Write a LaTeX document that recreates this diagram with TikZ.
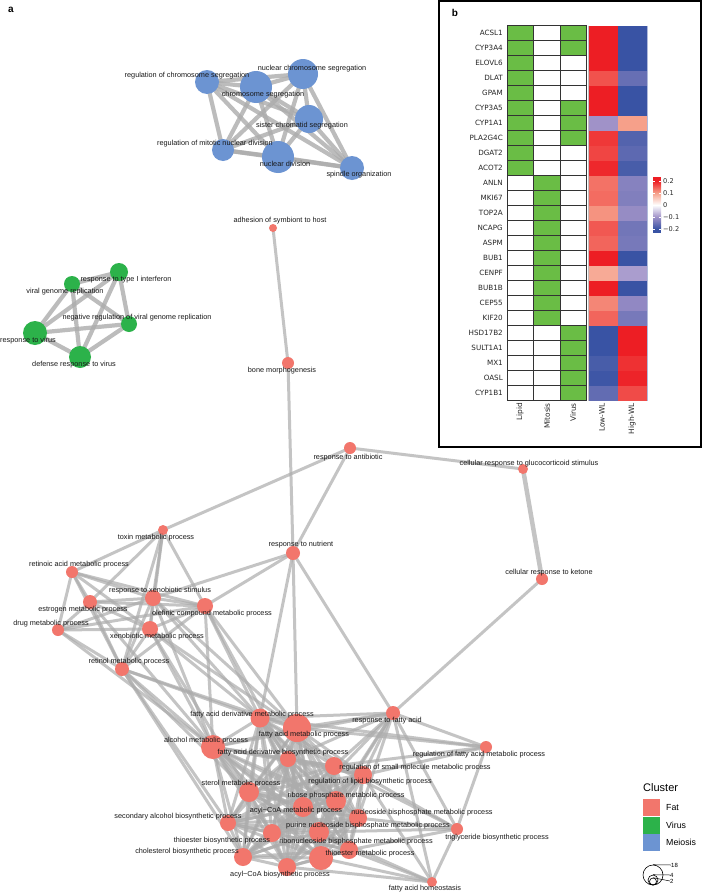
\documentclass[tikz,border=0pt]{standalone}
\usepackage{fontspec}
\setmainfont{Liberation Sans}
\newfontfamily\dejavu{DejaVu Sans}
\definecolor{fatc}{RGB}{242,118,108}
\definecolor{virc}{RGB}{44,178,74}
\definecolor{meic}{RGB}{108,148,210}
\definecolor{edgec}{RGB}{172,172,172}
\definecolor{hgreen}{RGB}{106,189,69}
\definecolor{hred}{RGB}{237,30,36}
\definecolor{hmid}{RGB}{246,160,138}
\definecolor{hblue}{RGB}{57,83,164}
\definecolor{hlav}{RGB}{160,146,200}
\tikzset{
 edge/.style={draw=edgec, line width=3pt, opacity=0.7},
 bedge/.style={draw=edgec, line width=4.2pt, opacity=0.8},
 dot/.style={circle, inner sep=0pt, minimum size=#1, draw=none},
 lab/.style={font=\fontsize{7.3}{8}\selectfont, inner sep=0pt, text=black!90},
 rowlab/.style={font=\dejavu\fontsize{7.2}{8}\selectfont, anchor=east, inner sep=0pt, text=black!85},
 collab/.style={font=\dejavu\fontsize{7.4}{8}\selectfont, anchor=east, rotate=90, inner sep=0pt, text=black!85},
 cellb/.style={draw=black!80, line width=0.6pt},
 cbl/.style={font=\dejavu\fontsize{6.6}{7}\selectfont, anchor=west, inner sep=0pt, text=black!85},
 legt/.style={font=\fontsize{8.8}{10}\selectfont, anchor=west, inner sep=0pt},
 sizel/.style={font=\fontsize{6}{7}\selectfont, anchor=west, inner sep=0pt},
 panel/.style={font=\bfseries\fontsize{10}{12}\selectfont, inner sep=0pt},
}
\begin{document}
\begin{tikzpicture}[x=1pt,y=-1pt]
\useasboundingbox (0,0) rectangle (703,894);
\fill[white] (0,0) rectangle (703,894);
% node centres
\foreach \n/\x/\y in {
b1/207/82, b2/256/87, b3/303/74, b4/309/119, b5/223/150, b6/278/157, b7/352/168,
g1/119/272, g2/72/284, g3/129/324, g4/35/333, g5/80/357,
r1/273/228, r2/288/363, r3/350/448, r4/523/469, r5/163/530, r6/293/553, r7/72/572,
r8/153/598, r9/90/602, r10/205/606, r11/58/630, r12/150/629, r13/122/669, r14/542/579,
r15/393/713, r16/260/718, r17/297/728, r18/213/747, r19/288/759, r20/486/747, r21/334/766,
r22/363/775, r23/249/792, r24/336/801, r25/303/807, r26/358/818, r27/228/823, r28/319/832,
r29/457/829, r30/272/833, r31/349/850, r32/321/858, r33/243/857, r34/287/867, r35/432/882}
 \coordinate (\n) at (\x,\y);
% ---- edges
\foreach \a [count=\ia] in {b1,b2,b3,b4,b5,b6,b7}{
 \foreach \b [count=\ib] in {b1,b2,b3,b4,b5,b6,b7}{
  \ifnum\ia<\ib \draw[bedge] (\a) -- (\b); \fi}}
\foreach \a [count=\ia] in {g1,g2,g3,g4,g5}{
 \foreach \b [count=\ib] in {g1,g2,g3,g4,g5}{
  \ifnum\ia<\ib \draw[bedge] (\a) -- (\b); \fi}}
\foreach \a [count=\ia] in {r7,r8,r9,r10,r11,r12,r13}{
 \foreach \b [count=\ib] in {r7,r8,r9,r10,r11,r12,r13}{
  \ifnum\ia<\ib \draw[edge] (\a) -- (\b); \fi}}
\foreach \a [count=\ia] in {r16,r17,r18,r19,r21,r22,r23,r24,r25,r26,r27,r28,r30,r31,r32,r33,r34}{
 \foreach \b [count=\ib] in {r16,r17,r18,r19,r21,r22,r23,r24,r25,r26,r27,r28,r30,r31,r32,r33,r34}{
  \ifnum\ia<\ib \draw[edge] (\a) -- (\b); \fi}}
\foreach \a/\b in {r1/r2, r2/r6, r3/r4, r3/r5, r3/r6, r14/r15, r6/r15, r6/r10, r6/r8,
 r6/r16, r6/r17, r5/r7, r5/r8, r5/r9, r5/r10, r5/r12, r5/r13,
 r13/r18, r13/r16, r13/r17, r13/r23, r13/r27, r13/r33, r12/r16, r12/r17, r12/r18,
 r10/r16, r10/r17, r10/r19, r8/r16, r8/r17, r8/r18, r9/r18, r11/r18, r10/r18, r12/r23,
 r15/r16, r15/r17, r15/r19, r15/r21, r15/r22, r15/r24, r15/r26, r15/r28, r15/r20,
 r15/r29, r15/r35, r15/r18, r15/r25,
 r20/r17, r20/r21, r20/r22, r20/r29, r20/r16,
 r29/r21, r29/r22, r29/r26, r29/r28, r29/r31, r29/r35,
 r35/r32, r35/r34, r35/r31, r35/r22, r35/r28}
 \draw[edge] (\a) -- (\b);
\draw[edge, line width=4.5pt] (r4) -- (r14);
% ---- circles
\foreach \n/\d in {b1/24, b2/32, b3/30, b4/28, b5/22, b6/32, b7/24}
 \node[dot=\d pt, fill=meic] (\n-c) at (\n) {};
\foreach \n/\d in {g1/18, g2/16, g3/16, g4/24, g5/22}
 \node[dot=\d pt, fill=virc] (\n-c) at (\n) {};
\foreach \n/\d in {r1/8, r2/12, r3/12, r4/10, r5/10, r6/14, r7/12, r8/16, r9/14, r10/16,
 r11/12, r12/16, r13/14, r14/12, r15/14, r16/19, r17/28, r18/24, r19/16, r20/12, r21/18,
 r22/18, r23/20, r24/20, r25/20, r26/18, r27/16, r28/20, r29/12, r30/18, r31/18, r32/24,
 r33/18, r34/18, r35/10}
 \node[dot=\d pt, fill=fatc] (\n-c) at (\n) {};
% ---- labels
\foreach \n/\x/\y/\t in {
b1/187/76/regulation of chromosome segregation,
b2/263/95/chromosome segregation,
b3/312/69/nuclear chromosome segregation,
b4/302/126/sister chromatid segregation,
b5/215/144/regulation of mitotic nuclear division,
b6/285/164/nuclear division,
b7/359/175/spindle organization,
g1/126/280/response to type I interferon,
g2/65/292/viral genome replication,
g3/137/318/negative regulation of viral genome replication,
g4/28/341/response to virus,
g5/74/365/defense response to virus,
r1/280/221/adhesion of symbiont to host,
r2/282/371/bone morphogenesis,
r3/348/458/response to antibiotic,
r4/529/464/cellular response to glucocorticoid stimulus,
r5/156/538/toxin metabolic process,
r6/301/545/response to nutrient,
r7/79/565/retinoic acid metabolic process,
r8/160/591/response to xenobiotic stimulus,
r9/83/610/estrogen metabolic process,
r10/212/614/olefinic compound metabolic process,
r11/51/624/drug metabolic process,
r12/157/637/xenobiotic metabolic process,
r13/129/662/retinol metabolic process,
r14/549/573/cellular response to ketone,
r15/387/721/response to fatty acid,
r16/252/715/fatty acid derivative metabolic process,
r17/304/735/fatty acid metabolic process,
r18/206/741/alcohol metabolic process,
r19/283/753/fatty acid derivative biosynthetic process,
r20/479/755/regulation of fatty acid metabolic process,
r21/415/768/regulation of small molecule metabolic process,
r22/370/782/regulation of lipid biosynthetic process,
r23/241/784/sterol metabolic process,
r24/346/796/ribose phosphate metabolic process,
r25/296/811/acyl−CoA metabolic process,
r26/422/813/nucleoside bisphosphate metabolic process,
r27/178/817/secondary alcohol biosynthetic process,
r28/368/826/purine nucleoside bisphosphate metabolic process,
r29/497/838/triglyceride biosynthetic process,
r30/222/841/thioester biosynthetic process,
r31/356/842/ribonucleoside bisphosphate metabolic process,
r32/370/854/thioester metabolic process,
r33/187/852/cholesterol biosynthetic process,
r34/280/875/acyl−CoA biosynthetic process,
r35/425/889/fatty acid homeostasis}
 \node[lab] (\n-l) at (\x,\y) {\t};
\node[panel] (pa) at (11,10) {a};
% ---- legend
\node[font=\fontsize{11}{13}\selectfont, anchor=west, inner sep=0pt] (legtitle) at (643,788) {Cluster};
\node[fill=fatc, minimum size=17pt, inner sep=0pt, anchor=north west] (kfat) at (643,799) {};
\node[fill=virc, minimum size=17pt, inner sep=0pt, anchor=north west] (kvir) at (643,816.5) {};
\node[fill=meic, minimum size=17pt, inner sep=0pt, anchor=north west] (kmei) at (643,834) {};
\node[legt] (tfat) at (666,807.5) {Fat};
\node[legt] (tvir) at (666,825) {Virus};
\node[legt] (tmei) at (666,842.5) {Meiosis};
\node[circle, draw=black, line width=0.6pt, minimum size=20pt, inner sep=0pt] (s18) at (653,875) {};
\node[circle, draw=black, line width=0.6pt, minimum size=10pt, inner sep=0pt] (s4) at (653,880) {};
\node[circle, draw=black, line width=0.6pt, minimum size=7pt, inner sep=0pt] (s2) at (653,881.5) {};
\node[sizel] (l18) at (671,865) {18};
\node[sizel] (l4) at (670,875) {4};
\node[sizel] (l2) at (670,881) {2};
\draw[line width=0.5pt] (s18.north) -- (l18.west);
\draw[line width=0.5pt] (s4.north) -- (l4.west);
\draw[line width=0.5pt] (s2.north) -- (l2.west);
% ---- panel b
\draw[line width=1.5pt] (439,1) rectangle (701,447);
\node[panel] (pb) at (455,13) {b};
\foreach \gn/\ql/\qm/\qv/\lc/\hc [count=\ri from 0] in {
ACSL1/1/0/1/hred/hblue,
CYP3A4/1/0/1/hred/hblue,
ELOVL6/1/0/0/hred/hblue,
DLAT/1/0/0/hred!60!hmid/hblue!55!hlav,
GPAM/1/0/0/hred/hblue,
CYP3A5/1/0/1/hred/hblue,
CYP1A1/1/0/1/hlav/hmid,
PLA2G4C/1/0/1/hred!80!hmid/hblue!75!hlav,
DGAT2/1/0/0/hred!70!hmid/hblue!65!hlav,
ACOT2/1/0/0/hred!92!hmid/hblue!85!hlav,
ANLN/0/1/0/hred!35!hmid/hblue!25!hlav,
MKI67/0/1/0/hred!40!hmid/hblue!30!hlav,
TOP2A/0/1/0/hred!10!hmid/hblue!10!hlav,
NCAPG/0/1/0/hred!55!hmid/hblue!45!hlav,
ASPM/0/1/0/hred!45!hmid/hblue!40!hlav,
BUB1/0/1/0/hred/hblue,
CENPF/0/1/0/hmid!90!white/hlav!90!white,
BUB1B/0/1/0/hred/hblue,
CEP55/0/1/0/hred!20!hmid/hblue!15!hlav,
KIF20/0/1/0/hred!45!hmid/hblue!40!hlav,
HSD17B2/0/0/1/hblue/hred,
SULT1A1/0/0/1/hblue/hred,
MX1/0/0/1/hblue!85!hlav/hred!85!hmid,
OASL/0/0/1/hblue!95!hlav/hred!95!hmid,
CYP1B1/0/0/1/hblue!60!hlav/hred!65!hmid}
{
 \pgfmathsetmacro\yt{25.5+15*\ri}
 \pgfmathsetmacro\yb{\yt+15}
 \pgfmathsetmacro\ym{\yt+7.5}
 \ifnum\ql=1 \def\fa{hgreen}\else\def\fa{white}\fi
 \ifnum\qm=1 \def\fb{hgreen}\else\def\fb{white}\fi
 \ifnum\qv=1 \def\fc{hgreen}\else\def\fc{white}\fi
 \fill[\lc] (588,\yt) rectangle (617.5,\yb);
 \fill[\hc] (617.5,\yt) rectangle (647,\yb);
 \draw[cellb, fill=\fa] (507,\yt) rectangle (533.5,\yb);
 \draw[cellb, fill=\fb] (533.5,\yt) rectangle (560,\yb);
 \draw[cellb, fill=\fc] (560,\yt) rectangle (586.5,\yb);
 \node[rowlab] (row\ri) at (503,\ym) {\gn};
}
\draw[black!25, line width=0.6pt] (588,25.5) -- (588,400.5);
\draw[hblue!40, line width=0.6pt] (647,25.5) -- (647,400.5);
\node[collab] (c1) at (520,403) {Lipid};
\node[collab] (c2) at (547,403) {Mitosis};
\node[collab] (c3) at (573,403) {Virus};
\node[collab] (c4) at (602,403) {Low-WL};
\node[collab] (c5) at (632,403) {High-WL};
% colour bar
\fill[hred] (653,177) rectangle (661,181);
\shade[top color=hred, bottom color=hmid] (653,181) rectangle (661,193);
\shade[top color=hmid, bottom color=white] (653,193) rectangle (661,205);
\shade[top color=white, bottom color=hlav] (653,205) rectangle (661,217);
\shade[top color=hlav, bottom color=hblue] (653,217) rectangle (661,229);
\fill[hblue] (653,229) rectangle (661,233);
\foreach \yy/\tt [count=\ci] in {181/0.2, 193/0.1, 205/0, 217/−0.1, 229/−0.2}{
 \draw[white, line width=0.5pt] (653,\yy) -- (655,\yy) (659,\yy) -- (661,\yy);
 \node[cbl] (cb\ci) at (663,\yy) {\tt};
}
\end{tikzpicture}
\end{document}
